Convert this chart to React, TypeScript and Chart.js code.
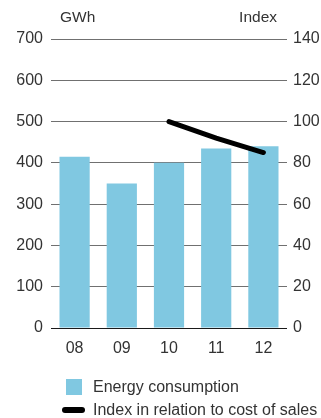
import React, { useEffect, useRef } from "react";
import { Chart, registerables } from "chart.js";

Chart.register(...registerables);

const years = ["08", "09", "10", "11", "12"];
const energyGWh = [415, 350, 400, 435, 440];
const costIndex = [null, null, 100, 92, 85];
const leftTicks = [0, 100, 200, 300, 400, 500, 600, 700];
const rightTicks = [0, 20, 40, 60, 80, 100, 120, 140];

const FONT = "'Liberation Sans', Arial, sans-serif";
const TEXT = "#333333";
const BAR = "#80c8e1";

const unitLabels = {
  id: "unitLabels",
  afterDraw(chart: any) {
    const { ctx, chartArea } = chart;
    ctx.save();
    ctx.font = `15.5px ${FONT}`;
    ctx.fillStyle = TEXT;
    ctx.textBaseline = "middle";
    ctx.textAlign = "left";
    ctx.fillText("GWh", chartArea.left + 9, 18);
    ctx.textAlign = "right";
    ctx.fillText("Index", chartArea.right - 10, 18);
    ctx.restore();
  },
};

export default function App() {
  const ref = useRef<HTMLCanvasElement | null>(null);

  useEffect(() => {
    if (!ref.current) return;
    const chart = new Chart(ref.current, {
      type: "bar",
      data: {
        labels: years,
        datasets: [
          {
            type: "line",
            label: "Index in relation to cost of sales",
            data: costIndex,
            yAxisID: "y1",
            borderColor: "#000000",
            borderWidth: 5,
            borderCapStyle: "round",
            pointRadius: 0,
            tension: 0,
            order: 0,
          } as any,
          {
            type: "bar",
            label: "Energy consumption",
            data: energyGWh,
            yAxisID: "y",
            backgroundColor: BAR,
            barPercentage: 0.64,
            categoryPercentage: 1,
            order: 1,
          },
        ],
      },
      options: {
        animation: false,
        responsive: false,
        layout: { padding: { top: 39, bottom: 60, left: 0, right: 0 } },
        plugins: { legend: { display: false }, tooltip: { enabled: false } },
        scales: {
          x: {
            grid: { display: false },
            border: { display: false },
            ticks: { color: TEXT, font: { family: FONT, size: 16 }, padding: 3 },
            afterFit: (s: any) => {
              s.height = 30;
            },
          },
          y: {
            position: "left",
            min: 0,
            max: 700,
            afterBuildTicks: (s: any) => {
              s.ticks = leftTicks.map((v) => ({ value: v }));
            },
            grid: {
              color: (c: any) => (c.tick && c.tick.value === 0 ? "#1a1a1a" : "#707070"),
              lineWidth: 1,
              drawTicks: false,
            },
            border: { display: false },
            ticks: { color: TEXT, font: { family: FONT, size: 16 }, padding: 8 },
            afterFit: (s: any) => {
              s.width = 51;
            },
          },
          y1: {
            position: "right",
            min: 0,
            max: 140,
            afterBuildTicks: (s: any) => {
              s.ticks = rightTicks.map((v) => ({ value: v }));
            },
            grid: { display: false, drawTicks: false },
            border: { display: false },
            ticks: { color: TEXT, font: { family: FONT, size: 16 }, padding: 6 },
            afterFit: (s: any) => {
              s.width = 34;
            },
          },
        },
      },
      plugins: [unitLabels],
    });
    return () => chart.destroy();
  }, []);

  return (
    <div style={{ position: "absolute", left: 0, top: 0, width: 321, height: 418, fontFamily: FONT, color: TEXT }}>
      <canvas ref={ref} width={321} height={418} style={{ position: "absolute", left: 0, top: 0 }} />
      <div style={{ position: "absolute", left: 66, top: 379, width: 16, height: 16, background: BAR }} />
      <div style={{ position: "absolute", left: 93, top: 377, fontSize: 16, lineHeight: "20px", whiteSpace: "nowrap" }}>
        Energy consumption
      </div>
      <div style={{ position: "absolute", left: 62, top: 406.5, width: 23, height: 6, borderRadius: 3, background: "#000" }} />
      <div style={{ position: "absolute", left: 93, top: 399.5, fontSize: 16, lineHeight: "20px", whiteSpace: "nowrap" }}>
        Index in relation to cost of sales
      </div>
    </div>
  );
}
